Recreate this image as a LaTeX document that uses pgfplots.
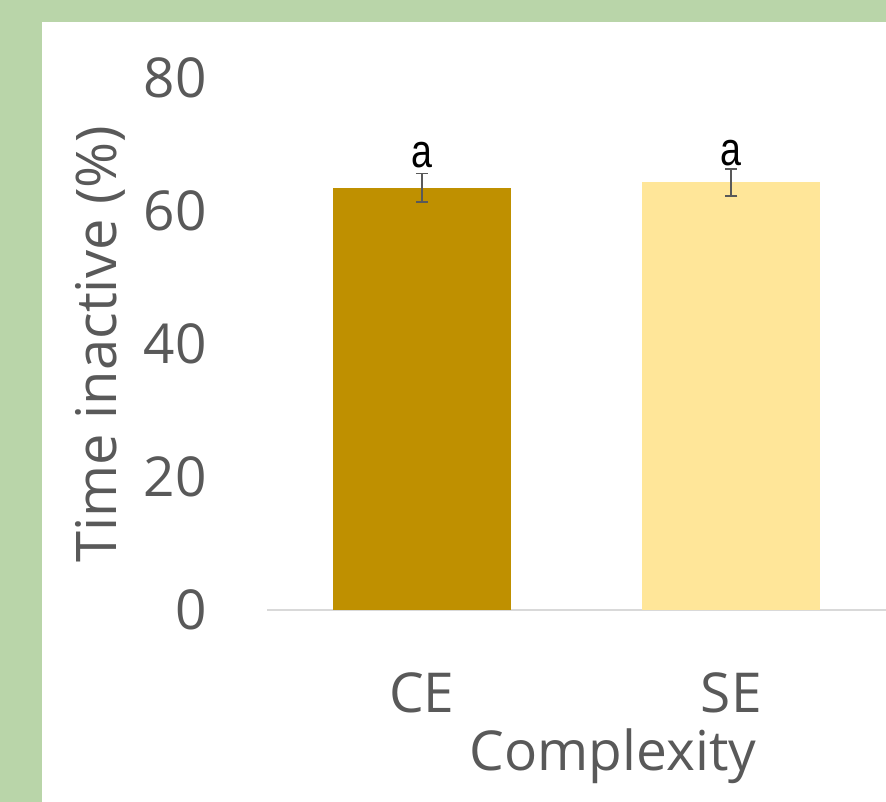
\documentclass[border=0pt]{standalone}
\usepackage{pgfplots}
\pgfplotsset{compat=1.18}
\usepackage{fontspec}
\setmainfont{Open Sans}
\newfontfamily\arialf{Liberation Sans}
\definecolor{bggreen}{HTML}{B9D5A9}
\definecolor{txtgray}{HTML}{595959}
\definecolor{barone}{HTML}{BF9000}
\definecolor{bartwo}{HTML}{FFE699}
\definecolor{axgray}{HTML}{D9D9D9}
\begin{document}
\begin{tikzpicture}
\useasboundingbox (0,0) rectangle (886bp,802bp);
\fill[bggreen] (0,0) rectangle (886bp,802bp);
\fill[white] (42bp,0) rectangle (886bp,780bp);
\begin{axis}[
  at={(267bp,192bp)}, anchor=south west,
  scale only axis, width=619bp, height=532bp,
  xmin=-0.5, xmax=1.5, ymin=0, ymax=80,
  axis x line*=bottom, axis y line*=left,
  y axis line style={draw=none},
  x axis line style={draw=axgray, line width=1.5bp},
  major tick length=0pt,
  ytick={0,20,40,60,80},
  xtick={0,1}, xticklabels={CE,SE},
  /pgf/number format/assume math mode=true,
  yticklabel style={font=\fontsize{55bp}{66bp}\selectfont, text=txtgray, inner sep=0pt, anchor=east, xshift=-60bp},
  xticklabel style={font=\fontsize{55bp}{66bp}\selectfont, text=txtgray, inner sep=0pt, anchor=north, yshift=-62bp},
  xlabel={Complexity},
  ylabel={Time inactive (\%)},
  xlabel style={font=\fontsize{55bp}{66bp}\selectfont, text=txtgray, inner sep=0pt, at={(axis description cs:0.559,0)}, anchor=base, yshift=-160bp},
  ylabel style={font=\fontsize{56bp}{67bp}\selectfont, text=txtgray, inner sep=0pt, at={([xshift=-167bp]axis description cs:0,0.5)}, anchor=center},
  clip=false,
]
\addplot[ybar, bar width=178bp, fill=barone, draw=none,
  error bars/.cd, y dir=both, y explicit,
  error bar style={draw=txtgray, line width=1.8bp},
  error mark options={rotate=90, mark size=6bp, line width=1.8bp, draw=txtgray}]
  coordinates {(0,63.5) +- (0,2.15)};
\addplot[ybar, bar width=178bp, fill=bartwo, draw=none,
  error bars/.cd, y dir=both, y explicit,
  error bar style={draw=txtgray, line width=1.8bp},
  error mark options={rotate=90, mark size=6bp, line width=1.8bp, draw=txtgray}]
  coordinates {(1,64.3) +- (0,2.0)};
\node[anchor=base, inner sep=0pt, font=\arialf\fontsize{47bp}{56bp}\selectfont] at (axis cs:0,66.6) {\scalebox{0.8}[1]{a}};
\node[anchor=base, inner sep=0pt, font=\arialf\fontsize{47bp}{56bp}\selectfont] at (axis cs:1,66.9) {\scalebox{0.8}[1]{a}};
\end{axis}
\end{tikzpicture}
\end{document}
